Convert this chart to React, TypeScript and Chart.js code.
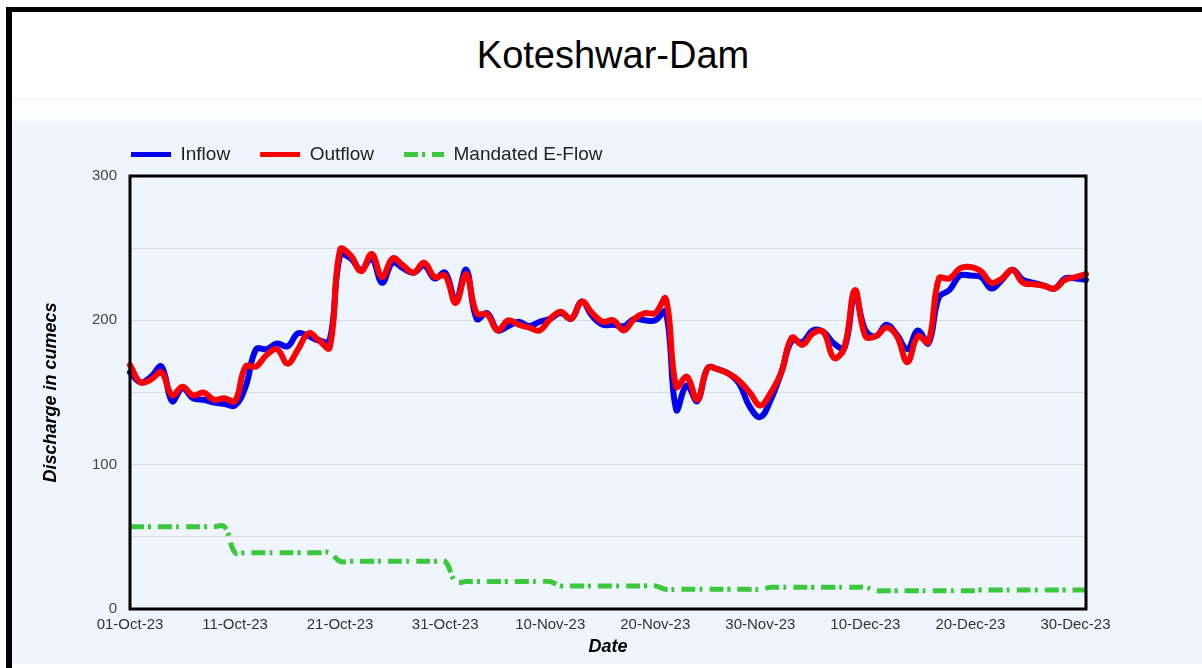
import React, { useEffect, useRef } from "react";
import { Chart, registerables } from "chart.js";

Chart.register(...registerables);

const MONTHS = ["Jan", "Feb", "Mar", "Apr", "May", "Jun", "Jul", "Aug", "Sep", "Oct", "Nov", "Dec"];

// 01-Oct-23 .. 31-Dec-23 (92 days)
const dateLabels: string[] = Array.from({ length: 92 }, (_, i) => {
  const d = new Date(2023, 9, 1 + i);
  const dd = String(d.getDate()).padStart(2, "0");
  return `${dd}-${MONTHS[d.getMonth()]}-23`;
});

const inflow = [
  164, 157, 161, 168, 144, 153, 146, 145, 143, 142,
  141, 154, 180, 180, 184, 182, 191, 189, 186, 186,
  245, 243, 235, 243, 226, 240, 236, 233, 238, 229,
  233, 214, 235, 201, 205, 193, 196, 199, 196, 199,
  201, 205, 201, 213, 203, 197, 197, 196, 201, 200,
  200, 206, 138, 155, 144, 167, 166, 163, 156, 140,
  133, 145, 164, 186, 185, 193, 192, 184, 181, 218,
  193, 189, 197, 190, 180, 193, 184, 216, 221, 231,
  231, 230, 222, 228, 235, 228, 226, 224, 222, 229,
  229, 228,
];

const outflow = [
  169, 157, 159, 164, 148, 154, 148, 150, 145, 146,
  144, 168, 168, 176, 180, 170, 180, 191, 186, 181,
  249, 245, 234, 246, 230, 243, 238, 233, 240, 230,
  231, 212, 232, 205, 204, 193, 200, 197, 195, 193,
  201, 206, 201, 213, 205, 199, 200, 193, 201, 205,
  205, 215, 154, 161, 145, 167, 166, 163, 158, 150,
  141, 150, 164, 188, 183, 191, 192, 174, 181, 221,
  189, 189, 195, 189, 171, 189, 185, 229, 229, 236,
  237, 234, 226, 229, 235, 226, 225, 224, 222, 228,
  230, 232,
];

const eflow = [
  57, 57, 57, 57, 57, 57, 57, 57, 57, 57,
  39, 39, 39, 39, 39, 39, 39, 39, 39, 39,
  33, 33, 33, 33, 33, 33, 33, 33, 33, 33, 33,
  19, 19, 19, 19, 19, 19, 19, 19, 19, 19,
  16, 16, 16, 16, 16, 16, 16, 16, 16, 16,
  13.6, 13.6, 13.6, 13.6, 13.6, 13.6, 13.6, 13.6, 13.6, 13.6,
  15, 15, 15, 15, 15, 15, 15, 15, 15, 15,
  12.7, 12.7, 12.7, 12.7, 12.7, 12.7, 12.7, 12.7, 12.7, 12.7,
  13.2, 13.2, 13.2, 13.2, 13.2, 13.2, 13.2, 13.2, 13.2, 13.2, 13.2,
];

const yTicks = [0, 100, 200, 300];

const FONT = "'Liberation Sans', Arial, sans-serif";

const plotFrame = {
  id: "plotFrame",
  afterDatasetsDraw(chart: any) {
    const { ctx, chartArea: a } = chart;
    ctx.save();
    ctx.strokeStyle = "#000";
    ctx.lineWidth = 3;
    ctx.strokeRect(a.left, a.top, a.right - a.left, a.bottom - a.top);
    ctx.restore();
  },
};

const legendShift = {
  id: "legendShift",
  afterLayout(chart: any) {
    const l = chart.legend;
    if (l) {
      l.left -= 29;
      l.right -= 29;
      l.top -= 2;
      l.bottom -= 2;
    }
  },
};

export default function App() {
  const ref = useRef<HTMLCanvasElement | null>(null);

  useEffect(() => {
    if (!ref.current) return;
    const chart = new Chart(ref.current, {
      type: "line",
      data: {
        labels: dateLabels,
        datasets: [
          {
            label: "Inflow",
            data: inflow,
            borderColor: "#0000f0",
            backgroundColor: "#0000f0",
            borderWidth: 6,
            pointRadius: 0,
            tension: 0.4,
            borderCapStyle: "round",
            borderJoinStyle: "round",
            fill: false,
            order: 2,
          },
          {
            label: "Outflow",
            data: outflow,
            borderColor: "#ff0000",
            backgroundColor: "#ff0000",
            borderWidth: 6,
            pointRadius: 0,
            tension: 0.4,
            borderCapStyle: "round",
            borderJoinStyle: "round",
            fill: false,
            order: 1,
          },
          {
            label: "Mandated E-Flow",
            data: eflow,
            borderColor: "#3cc83c",
            backgroundColor: "#3cc83c",
            borderWidth: 5,
            borderDash: [14, 4, 3, 7],
            pointRadius: 0,
            tension: 0.4,
            fill: false,
            order: 0,
          },
        ],
      },
      options: {
        animation: false,
        responsive: false,
        events: [],
        layout: { padding: { left: 20, right: 116, top: 117, bottom: 0 } },
        plugins: {
          tooltip: { enabled: false },
          title: { display: false },
          legend: {
            display: true,
            position: "top",
            align: "start",
            fullSize: false,
            labels: {
              usePointStyle: true,
              pointStyle: "line",
              pointStyleWidth: 40,
              padding: 30,
              color: "#222",
              font: { family: FONT, size: 19 },
              sort: (a: any, b: any) => a.datasetIndex - b.datasetIndex,
              generateLabels: (c: any) => {
                const items = (Chart as any).defaults.plugins.legend.labels.generateLabels(c);
                return items.map((it: any) => {
                  const ds: any = c.data.datasets[it.datasetIndex];
                  return {
                    ...it,
                    pointStyle: "line",
                    strokeStyle: ds.borderColor,
                    fillStyle: ds.borderColor,
                    lineWidth: ds.borderWidth === 6 ? 5 : 5,
                    lineDash: ds.borderDash || [],
                    lineCap: "butt",
                  };
                });
              },
            },
          },
        },
        scales: {
          x: {
            type: "category",
            offset: false,
            grid: { display: false, drawTicks: false },
            border: { display: false },
            ticks: {
              autoSkip: false,
              maxRotation: 0,
              minRotation: 0,
              padding: 7,
              color: "#333",
              font: { family: FONT, size: 15 },
              callback: (_v: any, idx: number) => (idx % 10 === 0 ? dateLabels[idx] : ""),
            },
            title: {
              display: true,
              text: "Date",
              color: "#000",
              font: { family: FONT, size: 18, weight: "bold", style: "italic" },
              padding: { top: 0, bottom: 10 },
            },
            afterFit: (scale: any) => {
              scale.height = 59;
            },
          },
          y: {
            min: 0,
            max: 300,
            grid: { color: "#d9dde2", lineWidth: 1, drawTicks: false },
            border: { display: false },
            ticks: {
              stepSize: 50,
              padding: 13,
              color: "#444",
              font: { family: FONT, size: 15 },
              callback: (v: any) => (yTicks.includes(Number(v)) ? String(v) : ""),
            },
            title: {
              display: true,
              text: "Discharge in cumecs",
              color: "#000",
              font: { family: FONT, size: 18, weight: "bold", style: "italic" },
              padding: { top: 20, bottom: 0 },
            },
            afterFit: (scale: any) => {
              scale.width = 110;
            },
          },
        },
      },
      plugins: [plotFrame, legendShift],
    });
    return () => chart.destroy();
  }, []);

  return (
    <div>
      <div
        style={{
          position: "fixed",
          left: 6,
          top: 7,
          right: 0,
          bottom: 0,
          borderLeft: "6px solid #000",
          borderTop: "5px solid #000",
          background: "#fff",
        }}
      />
      <div
        style={{
          position: "fixed",
          left: 413,
          top: 36,
          width: 400,
          height: 38,
          lineHeight: "38px",
          textAlign: "center",
          fontFamily: FONT,
          fontSize: 38,
          color: "#000",
        }}
      >
        Koteshwar-Dam
      </div>
      <div style={{ position: "fixed", left: 12, right: 0, top: 99, height: 1, background: "#ebebeb" }} />
      <div
        style={{
          position: "fixed",
          left: 12,
          right: 0,
          top: 100,
          height: 564,
          background: "linear-gradient(to bottom, #ffffff 0px, #fbfdff 20px, #eef5fd 21px, #eef5fd 100%)",
        }}
      />
      <canvas
        ref={ref}
        width={1202}
        height={668}
        style={{ position: "fixed", left: 0, top: 0, width: 1202, height: 668 }}
      />
    </div>
  );
}
